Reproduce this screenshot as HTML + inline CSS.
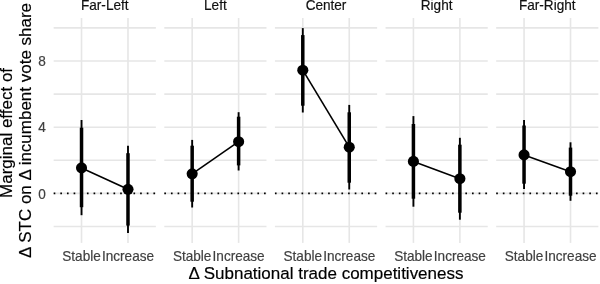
<!DOCTYPE html><html><head><meta charset="utf-8"><style>html,body{margin:0;padding:0;background:#fff;width:600px;height:284px;overflow:hidden}svg{display:block;filter:blur(0.3px)}text{font-family:"Liberation Sans",Arial,sans-serif}</style></head><body>
<svg width="600" height="284" viewBox="0 0 600 284">
<rect width="600" height="284" fill="#fff"/>
<g stroke="#E6E6E6" stroke-width="1.6" fill="none">
<line x1="53.66" y1="226.50" x2="155.86" y2="226.50"/>
<line x1="53.66" y1="193.40" x2="155.86" y2="193.40"/>
<line x1="53.66" y1="160.30" x2="155.86" y2="160.30"/>
<line x1="53.66" y1="127.20" x2="155.86" y2="127.20"/>
<line x1="53.66" y1="94.10" x2="155.86" y2="94.10"/>
<line x1="53.66" y1="61.00" x2="155.86" y2="61.00"/>
<line x1="53.66" y1="27.90" x2="155.86" y2="27.90"/>
<line x1="81.53" y1="18.0" x2="81.53" y2="242.9"/>
<line x1="127.99" y1="18.0" x2="127.99" y2="242.9"/>
<line x1="164.29" y1="226.50" x2="266.49" y2="226.50"/>
<line x1="164.29" y1="193.40" x2="266.49" y2="193.40"/>
<line x1="164.29" y1="160.30" x2="266.49" y2="160.30"/>
<line x1="164.29" y1="127.20" x2="266.49" y2="127.20"/>
<line x1="164.29" y1="94.10" x2="266.49" y2="94.10"/>
<line x1="164.29" y1="61.00" x2="266.49" y2="61.00"/>
<line x1="164.29" y1="27.90" x2="266.49" y2="27.90"/>
<line x1="192.16" y1="18.0" x2="192.16" y2="242.9"/>
<line x1="238.62" y1="18.0" x2="238.62" y2="242.9"/>
<line x1="274.92" y1="226.50" x2="377.12" y2="226.50"/>
<line x1="274.92" y1="193.40" x2="377.12" y2="193.40"/>
<line x1="274.92" y1="160.30" x2="377.12" y2="160.30"/>
<line x1="274.92" y1="127.20" x2="377.12" y2="127.20"/>
<line x1="274.92" y1="94.10" x2="377.12" y2="94.10"/>
<line x1="274.92" y1="61.00" x2="377.12" y2="61.00"/>
<line x1="274.92" y1="27.90" x2="377.12" y2="27.90"/>
<line x1="302.79" y1="18.0" x2="302.79" y2="242.9"/>
<line x1="349.25" y1="18.0" x2="349.25" y2="242.9"/>
<line x1="385.55" y1="226.50" x2="487.75" y2="226.50"/>
<line x1="385.55" y1="193.40" x2="487.75" y2="193.40"/>
<line x1="385.55" y1="160.30" x2="487.75" y2="160.30"/>
<line x1="385.55" y1="127.20" x2="487.75" y2="127.20"/>
<line x1="385.55" y1="94.10" x2="487.75" y2="94.10"/>
<line x1="385.55" y1="61.00" x2="487.75" y2="61.00"/>
<line x1="385.55" y1="27.90" x2="487.75" y2="27.90"/>
<line x1="413.42" y1="18.0" x2="413.42" y2="242.9"/>
<line x1="459.88" y1="18.0" x2="459.88" y2="242.9"/>
<line x1="496.18" y1="226.50" x2="598.38" y2="226.50"/>
<line x1="496.18" y1="193.40" x2="598.38" y2="193.40"/>
<line x1="496.18" y1="160.30" x2="598.38" y2="160.30"/>
<line x1="496.18" y1="127.20" x2="598.38" y2="127.20"/>
<line x1="496.18" y1="94.10" x2="598.38" y2="94.10"/>
<line x1="496.18" y1="61.00" x2="598.38" y2="61.00"/>
<line x1="496.18" y1="27.90" x2="598.38" y2="27.90"/>
<line x1="524.05" y1="18.0" x2="524.05" y2="242.9"/>
<line x1="570.51" y1="18.0" x2="570.51" y2="242.9"/>
</g>
<g stroke="#000" stroke-width="1.7" stroke-dasharray="1.66 4.99" fill="none">
<line x1="53.66" y1="193.40" x2="155.86" y2="193.40"/>
<line x1="164.29" y1="193.40" x2="266.49" y2="193.40"/>
<line x1="274.92" y1="193.40" x2="377.12" y2="193.40"/>
<line x1="385.55" y1="193.40" x2="487.75" y2="193.40"/>
<line x1="496.18" y1="193.40" x2="598.38" y2="193.40"/>
</g>
<line x1="81.53" y1="167.9" x2="127.99" y2="189.3" stroke="#000" stroke-width="1.6"/>
<line x1="81.53" y1="120.0" x2="81.53" y2="215.2" stroke="#000" stroke-width="1.9"/>
<line x1="81.53" y1="127.7" x2="81.53" y2="207.2" stroke="#000" stroke-width="3.5"/>
<circle cx="81.53" cy="167.9" r="5.55" fill="#000"/>
<line x1="127.99" y1="145.8" x2="127.99" y2="233.1" stroke="#000" stroke-width="1.9"/>
<line x1="127.99" y1="153.2" x2="127.99" y2="225.6" stroke="#000" stroke-width="3.5"/>
<circle cx="127.99" cy="189.3" r="5.55" fill="#000"/>
<line x1="192.16" y1="173.8" x2="238.62" y2="141.7" stroke="#000" stroke-width="1.6"/>
<line x1="192.16" y1="139.9" x2="192.16" y2="207.5" stroke="#000" stroke-width="1.9"/>
<line x1="192.16" y1="145.7" x2="192.16" y2="201.7" stroke="#000" stroke-width="3.5"/>
<circle cx="192.16" cy="173.8" r="5.55" fill="#000"/>
<line x1="238.62" y1="112.2" x2="238.62" y2="170.5" stroke="#000" stroke-width="1.9"/>
<line x1="238.62" y1="116.7" x2="238.62" y2="165.4" stroke="#000" stroke-width="3.5"/>
<circle cx="238.62" cy="141.7" r="5.55" fill="#000"/>
<line x1="302.79" y1="70.2" x2="349.25" y2="147.2" stroke="#000" stroke-width="1.6"/>
<line x1="302.79" y1="28.1" x2="302.79" y2="112.5" stroke="#000" stroke-width="1.9"/>
<line x1="302.79" y1="35.1" x2="302.79" y2="105.7" stroke="#000" stroke-width="3.5"/>
<circle cx="302.79" cy="70.2" r="5.55" fill="#000"/>
<line x1="349.25" y1="104.9" x2="349.25" y2="189.5" stroke="#000" stroke-width="1.9"/>
<line x1="349.25" y1="112.3" x2="349.25" y2="182.7" stroke="#000" stroke-width="3.5"/>
<circle cx="349.25" cy="147.2" r="5.55" fill="#000"/>
<line x1="413.42" y1="161.4" x2="459.88" y2="178.7" stroke="#000" stroke-width="1.6"/>
<line x1="413.42" y1="116.1" x2="413.42" y2="206.7" stroke="#000" stroke-width="1.9"/>
<line x1="413.42" y1="124.0" x2="413.42" y2="198.7" stroke="#000" stroke-width="3.5"/>
<circle cx="413.42" cy="161.4" r="5.55" fill="#000"/>
<line x1="459.88" y1="137.8" x2="459.88" y2="219.7" stroke="#000" stroke-width="1.9"/>
<line x1="459.88" y1="144.7" x2="459.88" y2="212.7" stroke="#000" stroke-width="3.5"/>
<circle cx="459.88" cy="178.7" r="5.55" fill="#000"/>
<line x1="524.05" y1="154.9" x2="570.51" y2="171.7" stroke="#000" stroke-width="1.6"/>
<line x1="524.05" y1="120.0" x2="524.05" y2="189.0" stroke="#000" stroke-width="1.9"/>
<line x1="524.05" y1="125.5" x2="524.05" y2="183.7" stroke="#000" stroke-width="3.5"/>
<circle cx="524.05" cy="154.9" r="5.55" fill="#000"/>
<line x1="570.51" y1="142.3" x2="570.51" y2="200.8" stroke="#000" stroke-width="1.9"/>
<line x1="570.51" y1="147.6" x2="570.51" y2="195.7" stroke="#000" stroke-width="3.5"/>
<circle cx="570.51" cy="171.7" r="5.55" fill="#000"/>
<text transform="translate(104.76 10.3) scale(1 1.02)" font-size="13.6" fill="#111" stroke="#111" stroke-width="0.18" text-anchor="middle">Far-Left</text>
<text transform="translate(215.39 10.3) scale(1 1.02)" font-size="13.6" fill="#111" stroke="#111" stroke-width="0.18" text-anchor="middle">Left</text>
<text transform="translate(326.02 10.3) scale(1 1.02)" font-size="13.6" fill="#111" stroke="#111" stroke-width="0.18" text-anchor="middle">Center</text>
<text transform="translate(436.65 10.3) scale(1 1.02)" font-size="13.6" fill="#111" stroke="#111" stroke-width="0.18" text-anchor="middle">Right</text>
<text transform="translate(547.28 10.3) scale(1 1.02)" font-size="13.6" fill="#111" stroke="#111" stroke-width="0.18" text-anchor="middle">Far-Right</text>
<text transform="translate(81.53 261.0) scale(1 1.02)" font-size="13.6" fill="#404040" stroke="#404040" stroke-width="0.18" text-anchor="middle">Stable</text>
<text transform="translate(127.99 261.0) scale(1 1.02)" font-size="13.6" fill="#404040" stroke="#404040" stroke-width="0.18" text-anchor="middle">Increase</text>
<text transform="translate(192.16 261.0) scale(1 1.02)" font-size="13.6" fill="#404040" stroke="#404040" stroke-width="0.18" text-anchor="middle">Stable</text>
<text transform="translate(238.62 261.0) scale(1 1.02)" font-size="13.6" fill="#404040" stroke="#404040" stroke-width="0.18" text-anchor="middle">Increase</text>
<text transform="translate(302.79 261.0) scale(1 1.02)" font-size="13.6" fill="#404040" stroke="#404040" stroke-width="0.18" text-anchor="middle">Stable</text>
<text transform="translate(349.25 261.0) scale(1 1.02)" font-size="13.6" fill="#404040" stroke="#404040" stroke-width="0.18" text-anchor="middle">Increase</text>
<text transform="translate(413.42 261.0) scale(1 1.02)" font-size="13.6" fill="#404040" stroke="#404040" stroke-width="0.18" text-anchor="middle">Stable</text>
<text transform="translate(459.88 261.0) scale(1 1.02)" font-size="13.6" fill="#404040" stroke="#404040" stroke-width="0.18" text-anchor="middle">Increase</text>
<text transform="translate(524.05 261.0) scale(1 1.02)" font-size="13.6" fill="#404040" stroke="#404040" stroke-width="0.18" text-anchor="middle">Stable</text>
<text transform="translate(570.51 261.0) scale(1 1.02)" font-size="13.6" fill="#404040" stroke="#404040" stroke-width="0.18" text-anchor="middle">Increase</text>
<text transform="translate(45.8 198.50) scale(1 1.02)" font-size="13.6" fill="#404040" stroke="#404040" stroke-width="0.18" text-anchor="end">0</text>
<text transform="translate(45.8 132.30) scale(1 1.02)" font-size="13.6" fill="#404040" stroke="#404040" stroke-width="0.18" text-anchor="end">4</text>
<text transform="translate(45.8 66.10) scale(1 1.02)" font-size="13.6" fill="#404040" stroke="#404040" stroke-width="0.18" text-anchor="end">8</text>
<text transform="translate(326.02 279.2) scale(1 0.96)" font-size="17" fill="#000" stroke="#000" stroke-width="0.18" text-anchor="middle">Δ Subnational trade competitiveness</text>
<text transform="translate(12.4 132.95) rotate(-90) scale(1 0.97)" font-size="17" fill="#000" stroke="#000" stroke-width="0.18" text-anchor="middle">Marginal effect of</text>
<text transform="translate(31.0 130.45) rotate(-90) scale(1 0.97)" font-size="17" fill="#000" stroke="#000" stroke-width="0.18" text-anchor="middle">Δ STC on Δ incumbent vote share</text>
</svg></body></html>
